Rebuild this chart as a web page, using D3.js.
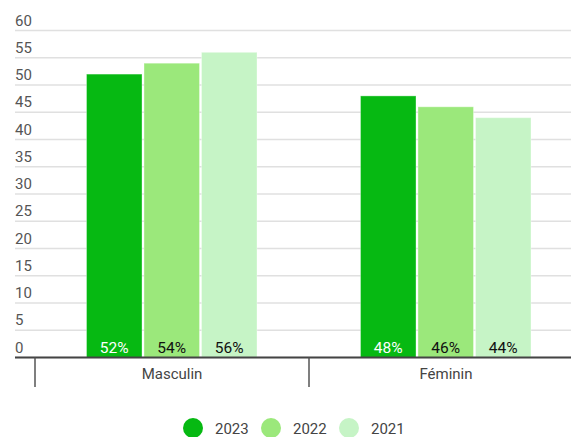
<!DOCTYPE html>
<html>
<head>
<meta charset="utf-8">
<script src="https://cdn.jsdelivr.net/npm/d3@7"></script>
<style>
  body { margin: 0; background: #fff; font-family: Roboto, sans-serif; }
</style>
</head>
<body>
<svg id="chart"></svg>
<script>
var categories = ["Masculin", "Féminin"];
var years = ["2023", "2022", "2021"];
var values2023 = [52, 48];
var values2022 = [54, 46];
var values2021 = [56, 44];
var yTicks = [0, 5, 10, 15, 20, 25, 30, 35, 40, 45, 50, 55, 60];
var colors = ["#06b912", "#9be87b", "#c6f4c6"];
var labelColors = ["#fff", "#111", "#111"];

var width = 571, height = 437;
var svg = d3.select("#chart").attr("width", width).attr("height", height);

var series = [values2023, values2022, values2021];

var y = d3.scaleLinear().domain([0, 60]).range([357.5, 30.5]);
var x0 = d3.scaleBand().domain(categories).range([35, 583]);
var x1 = d3.scaleBand().domain(years).range([51.5, 222]).paddingInner(0.035);

// grid + tick labels
var grid = svg.append("g");
grid.selectAll("line").data(yTicks).enter().append("line")
    .attr("x1", 15).attr("x2", width)
    .attr("y1", function(d) { return y(d); })
    .attr("y2", function(d) { return y(d); })
    .attr("stroke", "#e0e0e0").attr("stroke-width", 1.5);
grid.selectAll("text").data(yTicks).enter().append("text")
    .attr("x", 15).attr("y", function(d) { return y(d) - 5; })
    .style("font-size", "15px").style("fill", "#555")
    .text(function(d) { return d; });

// bars
var rows = [];
categories.forEach(function(c, i) {
  years.forEach(function(yr, j) {
    rows.push({cat: c, year: yr, j: j, v: series[j][i]});
  });
});

var bar = svg.selectAll(".bar").data(rows).enter().append("g").attr("class", "bar")
    .attr("transform", function(d) { return "translate(" + x0(d.cat) + ",0)"; });

bar.append("rect")
    .attr("x", function(d) { return x1(d.year); })
    .attr("y", function(d) { return y(d.v); })
    .attr("width", x1.bandwidth())
    .attr("height", function(d) { return y(0) - y(d.v); })
    .attr("fill", function(d) { return colors[d.j]; })
    .attr("stroke", "rgba(255,255,255,0.35)").attr("stroke-width", 1);

bar.append("text")
    .attr("x", function(d) { return x1(d.year) + x1.bandwidth() / 2; })
    .attr("y", y(0) - 5)
    .attr("text-anchor", "middle")
    .style("font-size", "15.5px")
    .style("fill", function(d) { return labelColors[d.j]; })
    .text(function(d) { return d.v + "%"; });

// baseline and category axis
svg.append("line")
    .attr("x1", 15).attr("x2", width)
    .attr("y1", y(0)).attr("y2", y(0))
    .attr("stroke", "#444").attr("stroke-width", 2);

svg.selectAll(".ctick").data(categories).enter().append("line")
    .attr("class", "ctick")
    .attr("x1", function(d) { return x0(d); }).attr("x2", function(d) { return x0(d); })
    .attr("y1", y(0)).attr("y2", 387)
    .attr("stroke", "#555").attr("stroke-width", 1.5);

svg.selectAll(".clabel").data(categories).enter().append("text")
    .attr("class", "clabel")
    .attr("x", function(d) { return x0(d) + x0.bandwidth() / 2; })
    .attr("y", 379)
    .attr("text-anchor", "middle")
    .style("font-size", "15px").style("fill", "#444")
    .text(function(d) { return d; });

// legend
var legendX = [193, 271, 349];
var legend = svg.selectAll(".legend").data(years).enter().append("g")
    .attr("class", "legend")
    .attr("transform", function(d, i) { return "translate(" + legendX[i] + ",428)"; });
legend.append("circle").attr("r", 10)
    .attr("fill", function(d, i) { return colors[i]; });
legend.append("text")
    .attr("x", 22).attr("y", 5.5)
    .style("font-size", "15px").style("fill", "#444")
    .text(function(d) { return d; });
</script>
</body>
</html>
